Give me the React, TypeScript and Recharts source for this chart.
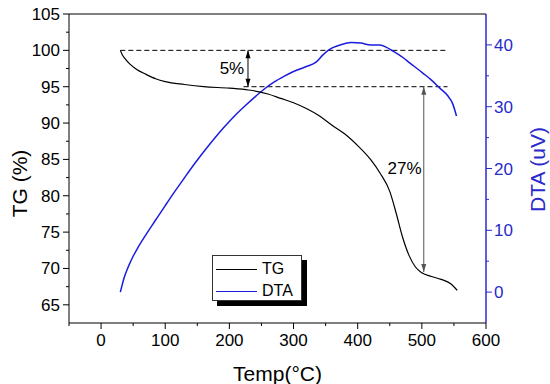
import {
  ComposedChart,
  Line,
  XAxis,
  YAxis,
  ReferenceLine,
  ReferenceDot,
} from "recharts";

const tgTemp = [30, 33, 37, 45, 55, 70, 85, 100, 130, 160, 200, 230, 260, 280, 300, 320, 340, 360, 380, 400, 420, 435, 450, 460, 470, 480, 490, 500, 515, 530, 545, 555];
const tgValue = [100, 99.4, 98.9, 98.1, 97.4, 96.7, 96.1, 95.7, 95.3, 95.0, 94.8, 94.55, 94.0, 93.4, 92.8, 92.0, 91.0, 89.7, 88.5, 86.9, 85.0, 83.1, 80.6, 77.6, 74.3, 71.8, 70.2, 69.4, 68.9, 68.5, 67.9, 67.0];

const dtaTemp = [30, 32, 35, 42, 50, 58, 70, 84, 100, 115, 130, 146, 160, 177, 192, 208, 225, 240, 255, 270, 285, 300, 320, 335, 345, 355, 370, 390, 405, 420, 435, 445, 455, 470, 481, 502, 515, 528, 540, 548, 554];
const dtaValue = [0, 0.8, 2.0, 4.0, 5.8, 7.3, 9.3, 11.5, 14.0, 16.3, 18.5, 20.8, 22.7, 24.9, 26.7, 28.5, 30.2, 31.6, 32.9, 34.0, 34.9, 35.7, 36.5, 37.2, 38.3, 39.2, 39.9, 40.4, 40.3, 40.0, 40.0, 39.6, 39.0, 38.0, 37.1, 35.4, 34.3, 33.0, 31.8, 30.5, 28.5];

const xTicks = [-50, 0, 50, 100, 150, 200, 250, 300, 350, 400, 450, 500, 550, 600];
const tgTicks = [65, 67.5, 70, 72.5, 75, 77.5, 80, 82.5, 85, 87.5, 90, 92.5, 95, 97.5, 100, 102.5, 105];
const dtaTicks = [0, 5, 10, 15, 20, 25, 30, 35, 40];

const tgData = tgTemp.map((t, i) => ({ temp: t, tg: tgValue[i] }));
const dtaData = dtaTemp.map((t, i) => ({ temp: t, dta: dtaValue[i] }));

const FONT = '"Liberation Sans", Arial, sans-serif';
const BLUE = "#1c1ce0";
const AXIS_BLUE = "#2a2acc";

const XTick = ({ x, y, payload }: any) => {
  const major = payload.value % 100 === 0;
  return (
    <g>
      <line x1={x} x2={x} y1={y} y2={y + (major ? 6 : 3)} stroke="#000" />
      {major && (
        <text x={x} y={y + 23} textAnchor="middle" fontSize={17} fill="#000" fontFamily={FONT}>
          {payload.value}
        </text>
      )}
    </g>
  );
};

const LeftTick = ({ x, y, payload }: any) => {
  const major = payload.value % 5 === 0;
  return (
    <g>
      <line x1={x} x2={x - (major ? 6 : 3)} y1={y} y2={y} stroke="#000" />
      {major && (
        <text x={x - 9} y={y + 6} textAnchor="end" fontSize={17} fill="#000" fontFamily={FONT}>
          {payload.value}
        </text>
      )}
    </g>
  );
};

const RightTick = ({ x, y, payload }: any) => {
  const major = payload.value % 10 === 0;
  return (
    <g>
      <line x1={x} x2={x + (major ? 6 : 3)} y1={y} y2={y} stroke={AXIS_BLUE} />
      {major && (
        <text x={x + 8} y={y + 6} textAnchor="start" fontSize={17} fill={AXIS_BLUE} fontFamily={FONT}>
          {payload.value}
        </text>
      )}
    </g>
  );
};

const arrowShape = (color: string) => (p: any) => {
  const top = Math.min(p.y1, p.y2);
  const bot = Math.max(p.y1, p.y2);
  const x = p.x1;
  return (
    <g>
      <line x1={x} x2={x} y1={top} y2={bot} stroke={color} strokeWidth={1} />
      <path d={`M${x - 2.5},${top + 8}L${x},${top}L${x + 2.5},${top + 8}Z`} fill={color} />
      <path d={`M${x - 2.5},${bot - 8}L${x},${bot}L${x + 2.5},${bot - 8}Z`} fill={color} />
    </g>
  );
};

const Legend = () => (
  <div
    style={{
      position: "absolute",
      left: 212,
      top: 255,
      width: 88,
      height: 44,
      border: "1px solid #333",
      background: "#fff",
      boxShadow: "5px 5px 0 #000",
      fontFamily: FONT,
      fontSize: 16,
    }}
  >
    {[
      { name: "TG", color: "#000" },
      { name: "DTA", color: BLUE },
    ].map((e, i) => (
      <div key={e.name} style={{ position: "absolute", left: 3, top: 3 + i * 22, height: 20, display: "flex", alignItems: "center" }}>
        <div style={{ width: 41, height: 0, borderTop: `1.3px solid ${e.color}` }} />
        <span style={{ marginLeft: 5, color: "#000" }}>{e.name}</span>
      </div>
    ))}
  </div>
);

export default function App() {
  return (
    <div style={{ position: "absolute", left: 0, top: 0, width: 550, height: 384, background: "#fff", fontFamily: FONT }}>
      <ComposedChart width={550} height={384} margin={{ top: 14, right: 0, bottom: 0, left: 0 }}>
        <XAxis
          type="number"
          dataKey="temp"
          domain={[-50, 600]}
          ticks={xTicks}
          interval={0}
          allowDataOverflow
          height={61}
          tickSize={0}
          tickMargin={0}
          tickLine={false}
          tick={<XTick />}
          stroke="#000"
          label={(props: any) => {
            const vb = props.viewBox;
            return (
              <text x={vb.x + vb.width / 2} y={vb.y + 58} textAnchor="middle" fontSize={21} fill="#000" fontFamily={FONT}>
                Temp(°C)
              </text>
            );
          }}
        />
        <YAxis
          yAxisId="tg"
          domain={[62.5, 105]}
          ticks={tgTicks}
          interval={0}
          allowDataOverflow
          width={69}
          tickSize={0}
          tickMargin={0}
          tickLine={false}
          tick={<LeftTick />}
          stroke="#000"
          label={(props: any) => {
            const vb = props.viewBox;
            const cx = vb.x + 27;
            const cy = vb.y + vb.height / 2 + 15;
            return (
              <text x={cx} y={cy} transform={`rotate(-90 ${cx} ${cy})`} textAnchor="middle" fontSize={21} fill="#000" fontFamily={FONT}>
                TG (%)
              </text>
            );
          }}
        />
        <YAxis
          yAxisId="dta"
          orientation="right"
          domain={[-5, 45]}
          ticks={dtaTicks}
          interval={0}
          allowDataOverflow
          width={64}
          tickSize={0}
          tickMargin={0}
          tickLine={false}
          tick={<RightTick />}
          stroke={AXIS_BLUE}
          strokeWidth={1.5}
          label={(props: any) => {
            const vb = props.viewBox;
            const cx = vb.x + 59;
            const cy = vb.y + vb.height / 2 + 1;
            return (
              <text x={cx} y={cy} transform={`rotate(-90 ${cx} ${cy})`} textAnchor="middle" fontSize={21} fill={AXIS_BLUE} fontFamily={FONT}>
                DTA (uV)
              </text>
            );
          }}
        />
        <ReferenceLine yAxisId="tg" y={105} stroke="#000" strokeWidth={1.2} />
        <ReferenceLine
          yAxisId="tg"
          segment={[{ x: 30, y: 100 }, { x: 540, y: 100 }]}
          stroke="#000"
          strokeDasharray="5 3"
        />
        <ReferenceLine
          yAxisId="tg"
          segment={[{ x: 222, y: 95 }, { x: 540, y: 95 }]}
          stroke="#000"
          strokeDasharray="5 3"
        />
        <ReferenceLine
          yAxisId="tg"
          segment={[{ x: 229, y: 100 }, { x: 229, y: 95 }]}
          shape={arrowShape("#000")}
        />
        <ReferenceLine
          yAxisId="tg"
          segment={[{ x: 503, y: 95 }, { x: 503, y: 69.5 }]}
          shape={arrowShape("#555")}
        />
        <ReferenceDot
          yAxisId="tg"
          x={204}
          y={97.6}
          r={0}
          stroke="none"
          fill="none"
          label={{ value: "5%", position: "center", fontSize: 17, fill: "#000", fontFamily: FONT }}
        />
        <ReferenceDot
          yAxisId="tg"
          x={473}
          y={83.8}
          r={0}
          stroke="none"
          fill="none"
          label={{ value: "27%", position: "center", fontSize: 17, fill: "#000", fontFamily: FONT }}
        />
        <Line
          yAxisId="dta"
          data={dtaData}
          dataKey="dta"
          type="monotone"
          stroke={BLUE}
          strokeWidth={1.5}
          dot={false}
          isAnimationActive={false}
        />
        <Line
          yAxisId="tg"
          data={tgData}
          dataKey="tg"
          type="monotone"
          stroke="#000"
          strokeWidth={1.2}
          dot={false}
          isAnimationActive={false}
        />
      </ComposedChart>
      <Legend />
    </div>
  );
}
